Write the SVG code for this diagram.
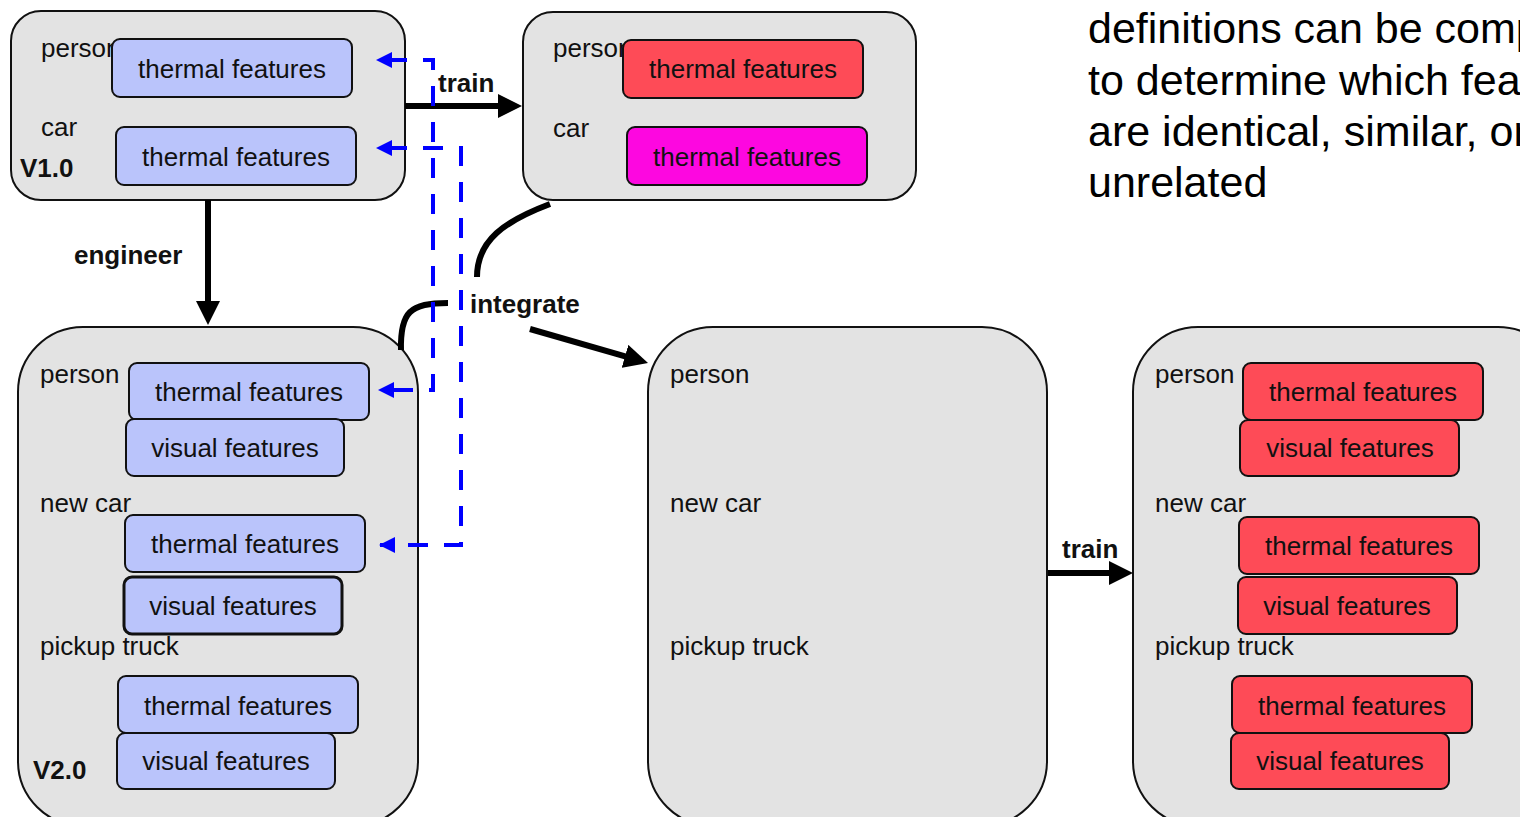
<svg xmlns="http://www.w3.org/2000/svg" width="1520" height="817" viewBox="0 0 1520 817">
  <style>
    .panel { fill: #e3e3e3; stroke: #111; stroke-width: 2; }
    .feat { stroke: #111; stroke-width: 2; }
    .blue { fill: #bac4fb; }
    .red { fill: #fe4b57; }
    .mag { fill: #fd07e0; }
    .lbl { font-family: "Liberation Sans", Arial, sans-serif; font-size: 26px; fill: #111; }
    .ftxt { font-family: "Liberation Sans", Arial, sans-serif; font-size: 26px; fill: #111; text-anchor: middle; }
    .bold { font-family: "Liberation Sans", Arial, sans-serif; font-size: 26px; font-weight: bold; fill: #111; }
    .note { font-family: "Liberation Sans", Arial, sans-serif; font-size: 43px; fill: #000; }
    .flow { fill: none; stroke: #000; stroke-width: 6; }
    .link { fill: none; stroke: #0000ff; stroke-width: 4; stroke-dasharray: 20 16; stroke-dashoffset: 26; }
  </style>
  <defs>
    <marker id="blackHead" viewBox="0 0 24 24" refX="12" refY="12" markerWidth="24" markerHeight="24" markerUnits="userSpaceOnUse" orient="auto">
      <path d="M0,0 L24,12 L0,24 z" fill="#000"/>
    </marker>
    <marker id="blueHead" viewBox="0 0 16 16" refX="15" refY="8" markerWidth="16" markerHeight="16" markerUnits="userSpaceOnUse" orient="auto-start-reverse">
      <path d="M0,0 L16,8 L0,16 z" fill="#0000ff"/>
    </marker>
  </defs>

  <rect width="1520" height="817" fill="#fff"/>

  <!-- explanatory note, upper right -->
  <g id="note">
    <text class="note" x="1088" y="43">definitions can be compared</text>
    <text class="note" x="1088" y="95">to determine which features</text>
    <text class="note" x="1088" y="146">are identical, similar, or</text>
    <text class="note" x="1088" y="197">unrelated</text>
  </g>

  <!-- model V1.0 -->
  <g id="v1">
    <rect class="panel" x="11" y="11" width="394" height="189" rx="30"/>
    <text class="lbl" x="41" y="57">person</text>
    <rect class="feat blue" x="112" y="39" width="240" height="58" rx="8"/>
    <text class="ftxt" x="232" y="78">thermal features</text>
    <text class="lbl" x="41" y="136">car</text>
    <rect class="feat blue" x="116" y="127" width="240" height="58" rx="8"/>
    <text class="ftxt" x="236" y="166">thermal features</text>
    <text class="bold" x="20" y="177">V1.0</text>
  </g>

  <!-- trained V1.0 -->
  <g id="v1-trained">
    <rect class="panel" x="523" y="12" width="393" height="188" rx="30"/>
    <text class="lbl" x="553" y="57">person</text>
    <rect class="feat red" x="623" y="40" width="240" height="58" rx="8"/>
    <text class="ftxt" x="743" y="78">thermal features</text>
    <text class="lbl" x="553" y="137">car</text>
    <rect class="feat mag" x="627" y="127" width="240" height="58" rx="8"/>
    <text class="ftxt" x="747" y="166">thermal features</text>
  </g>

  <!-- model V2.0 -->
  <g id="v2">
    <rect class="panel" x="18" y="327" width="400" height="499" rx="65"/>
    <text class="lbl" x="40" y="383">person</text>
    <rect class="feat blue" x="129" y="363" width="240" height="57" rx="8"/>
    <text class="ftxt" x="249" y="401">thermal features</text>
    <rect class="feat blue" x="126" y="419" width="218" height="57" rx="8"/>
    <text class="ftxt" x="235" y="457">visual features</text>
    <text class="lbl" x="40" y="512">new car</text>
    <rect class="feat blue" x="125" y="515" width="240" height="57" rx="8"/>
    <text class="ftxt" x="245" y="553">thermal features</text>
    <rect class="feat blue" x="124" y="577" width="218" height="57" rx="8" style="stroke-width:3"/>
    <text class="ftxt" x="233" y="615">visual features</text>
    <text class="lbl" x="40" y="655">pickup truck</text>
    <rect class="feat blue" x="118" y="676" width="240" height="57" rx="8"/>
    <text class="ftxt" x="238" y="715">thermal features</text>
    <rect class="feat blue" x="117" y="733" width="218" height="56" rx="8"/>
    <text class="ftxt" x="226" y="770">visual features</text>
    <text class="bold" x="33" y="779">V2.0</text>
  </g>

  <!-- integrated model, untrained -->
  <g id="merged">
    <rect class="panel" x="648" y="327" width="399" height="499" rx="65"/>
    <text class="lbl" x="670" y="383">person</text>
    <text class="lbl" x="670" y="512">new car</text>
    <text class="lbl" x="670" y="655">pickup truck</text>
  </g>

  <!-- integrated model, trained -->
  <g id="merged-trained">
    <rect class="panel" x="1133" y="327" width="430" height="499" rx="65"/>
    <text class="lbl" x="1155" y="383">person</text>
    <rect class="feat red" x="1243" y="363" width="240" height="57" rx="8"/>
    <text class="ftxt" x="1363" y="401">thermal features</text>
    <rect class="feat red" x="1240" y="420" width="219" height="56" rx="8"/>
    <text class="ftxt" x="1350" y="457">visual features</text>
    <text class="lbl" x="1155" y="512">new car</text>
    <rect class="feat red" x="1239" y="517" width="240" height="57" rx="8"/>
    <text class="ftxt" x="1359" y="555">thermal features</text>
    <rect class="feat red" x="1238" y="577" width="219" height="57" rx="8"/>
    <text class="ftxt" x="1347" y="615">visual features</text>
    <text class="lbl" x="1155" y="655">pickup truck</text>
    <rect class="feat red" x="1232" y="676" width="240" height="57" rx="8"/>
    <text class="ftxt" x="1352" y="715">thermal features</text>
    <rect class="feat red" x="1231" y="733" width="218" height="56" rx="8"/>
    <text class="ftxt" x="1340" y="770">visual features</text>
  </g>

  <!-- connectors -->
  <g id="connectors">
    <path class="flow" d="M405,106 H510" marker-end="url(#blackHead)"/>
    <text class="bold" x="438" y="92">train</text>

    <path class="flow" d="M208,200 V313" marker-end="url(#blackHead)"/>
    <text class="bold" x="74" y="264">engineer</text>

    <path class="flow" d="M550,204 C505,221 477,240 477,277"/>
    <path class="flow" d="M448,303 C410,303 400,312 401,350"/>
    <path class="flow" d="M530,329 L636.5,359.7" marker-end="url(#blackHead)"/>
    <text class="bold" x="470" y="313">integrate</text>

    <path class="flow" d="M1048,573 H1121" marker-end="url(#blackHead)"/>
    <text class="bold" x="1062" y="558">train</text>

    <path class="link" d="M377,60 H433 V390 H379" marker-start="url(#blueHead)" marker-end="url(#blueHead)"/>
    <path class="link" d="M377,148 H461 V545 H380" marker-start="url(#blueHead)" marker-end="url(#blueHead)"/>
  </g>
</svg>
